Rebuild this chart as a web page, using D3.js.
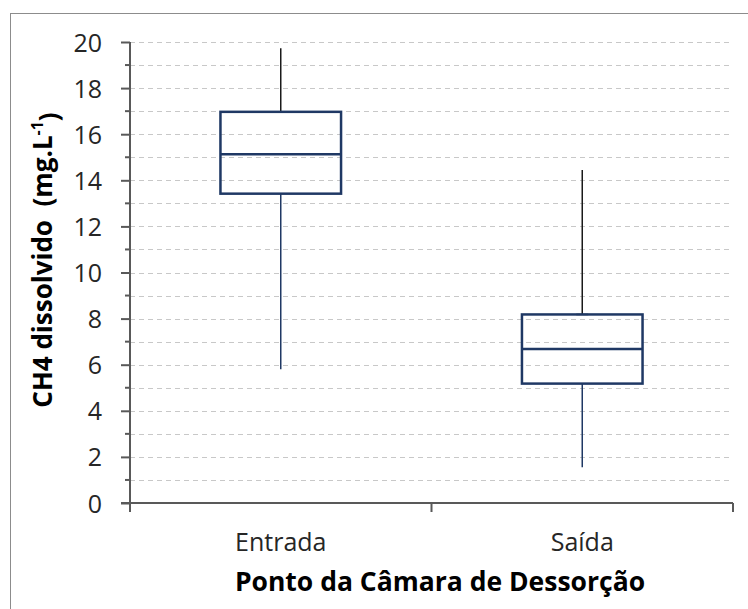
<!DOCTYPE html>
<html><head><meta charset="utf-8">
<script src="https://cdn.jsdelivr.net/npm/d3@7"></script>
<style>body{margin:0;background:#fff;} text{font-family:"Open Sans",sans-serif;}</style>
</head><body>
<svg id="c" width="748" height="609"></svg>
<script>
const categories = ["Entrada", "Saída"];
const whiskerLow = [5.8, 1.55];
const q1 = [13.42, 5.18];
const median = [15.13, 6.68];
const q3 = [16.97, 8.18];
const whiskerHigh = [19.73, 14.45];
const yTicks = [0, 2, 4, 6, 8, 10, 12, 14, 16, 18, 20];

const svg = d3.select("#c");
const L = 130, R = 733, T = 42, B = 503;
const y = d3.scaleLinear().domain([0, 20]).range([B, T]);
const x = d3.scaleBand().domain(categories).range([L, R]);

// outer border
svg.append("rect").attr("x", 10.5).attr("y", 13.5).attr("width", 760).attr("height", 620)
  .attr("fill", "none").attr("stroke", "#8c8c8c").attr("stroke-width", 1);

// gridlines (every 1)
const minor = d3.range(1, 21);
svg.append("g").selectAll("line").data(minor).join("line")
  .attr("x1", L).attr("x2", R).attr("y1", d => Math.round(y(d)) + 0.5).attr("y2", d => Math.round(y(d)) + 0.5)
  .attr("stroke", "#c8c8c8").attr("stroke-width", 1).attr("stroke-dasharray", "5,4");

// y axis
const ga = svg.append("g").attr("transform", `translate(${L},0)`);
ga.call(d3.axisLeft(y).tickValues(yTicks).tickSize(9).tickPadding(19).tickFormat(d3.format("d")));
ga.select(".domain").remove();
ga.selectAll(".tick line").attr("stroke", "#595959").attr("stroke-width", 2);
ga.selectAll(".tick text").attr("fill", "#262626").style("font-size", "25px").attr("dy", "0.36em");
// minor ticks
svg.append("g").selectAll("line").data(d3.range(1, 20, 2)).join("line")
  .attr("x1", L - 5).attr("x2", L).attr("y1", d => y(d)).attr("y2", d => y(d))
  .attr("stroke", "#595959").attr("stroke-width", 2);
svg.append("line").attr("x1", L).attr("x2", L).attr("y1", T).attr("y2", B + 9)
  .attr("stroke", "#595959").attr("stroke-width", 2);

// x axis
svg.append("line").attr("x1", L - 9).attr("x2", R).attr("y1", B).attr("y2", B)
  .attr("stroke", "#595959").attr("stroke-width", 2);
[L + x.bandwidth(), R].forEach(px => {
  svg.append("line").attr("x1", px).attr("x2", px).attr("y1", B).attr("y2", B + 9)
    .attr("stroke", "#595959").attr("stroke-width", 2);
});
svg.append("g").selectAll("text").data(categories).join("text")
  .attr("x", d => x(d) + x.bandwidth() / 2).attr("y", 551)
  .attr("text-anchor", "middle").attr("fill", "#262626").style("font-size", "25px").text(d => d);

// boxes
const bw = x.bandwidth() * 0.4;
const navy = "#1f3864";
categories.forEach((c, i) => {
  const cx = x(c) + x.bandwidth() / 2;
  svg.append("line").attr("x1", cx).attr("x2", cx).attr("y1", y(whiskerHigh[i])).attr("y2", y(q3[i]))
    .attr("stroke", "#1a1a1a").attr("stroke-width", 1.5);
  svg.append("line").attr("x1", cx - 6).attr("x2", cx + 6).attr("y1", y(q3[i])).attr("y2", y(q3[i]))
    .attr("stroke", "#1a1a1a").attr("stroke-width", 1.5);
  svg.append("line").attr("x1", cx).attr("x2", cx).attr("y1", y(q1[i])).attr("y2", y(whiskerLow[i]))
    .attr("stroke", navy).attr("stroke-width", 1.5);
  svg.append("rect").attr("x", cx - bw / 2).attr("y", y(q3[i])).attr("width", bw)
    .attr("height", y(q1[i]) - y(q3[i])).attr("fill", "none").attr("stroke", navy).attr("stroke-width", 2.5);
  svg.append("line").attr("x1", cx - bw / 2).attr("x2", cx + bw / 2).attr("y1", y(median[i])).attr("y2", y(median[i]))
    .attr("stroke", navy).attr("stroke-width", 2.5);
});

// axis titles
svg.append("text").attr("x", 440).attr("y", 591).attr("text-anchor", "middle")
  .attr("fill", "#000").style("font-size", "26.5px").style("font-weight", "bold")
  .text("Ponto da Câmara de Dessorção");
const yt = svg.append("text").attr("transform", "translate(52,260) rotate(-90)").attr("text-anchor", "middle")
  .attr("fill", "#000").style("font-size", "26px").style("font-weight", "bold").attr("xml:space", "preserve")
  .style("white-space", "pre");
yt.append("tspan").text("CH4 dissolvido  (mg.L");
yt.append("tspan").attr("dy", "-0.55em").style("font-size", "16px").text("-1");
yt.append("tspan").attr("dy", "0.55em").text(")");
</script>
</body></html>
